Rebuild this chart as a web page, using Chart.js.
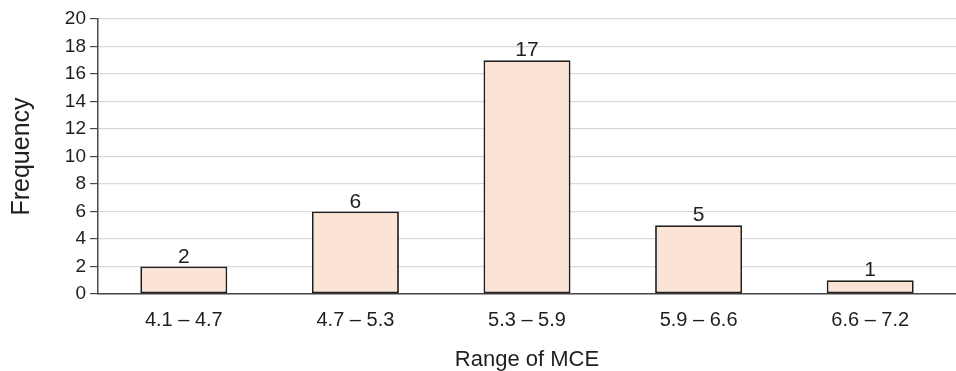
<!DOCTYPE html>
<html>
<head>
<meta charset="utf-8">
<script src="https://cdn.jsdelivr.net/npm/chart.js@4.4.1/dist/chart.umd.min.js"></script>
<style>
  html, body { margin: 0; padding: 0; background: #ffffff; }
  #wrap { width: 956px; height: 371px; position: relative; }
</style>
</head>
<body>
<div id="wrap"><canvas id="c"></canvas></div>
<script>
const categories = ['4.1 \u2013 4.7', '4.7 \u2013 5.3', '5.3 \u2013 5.9', '5.9 \u2013 6.6', '6.6 \u2013 7.2'];
const frequency = [2, 6, 17, 5, 1];
const yTicks = [0, 2, 4, 6, 8, 10, 12, 14, 16, 18, 20];

const FONT = '"Liberation Sans", Arial, sans-serif';
const TEXT = '#1f1f1f';
const AXIS = '#4a4a4a';

// Value labels drawn above each bar
const barValueLabels = {
  id: 'barValueLabels',
  afterDatasetsDraw(chart) {
    const ctx = chart.ctx;
    const meta = chart.getDatasetMeta(0);
    ctx.save();
    ctx.font = '21px ' + FONT;
    ctx.fillStyle = TEXT;
    ctx.textAlign = 'center';
    ctx.textBaseline = 'alphabetic';
    meta.data.forEach((bar, i) => {
      ctx.fillText(String(frequency[i]), bar.x, bar.y - 4);
    });
    ctx.restore();
  }
};

new Chart(document.getElementById('c'), {
  type: 'bar',
  data: {
    labels: categories,
    datasets: [{
      data: frequency,
      backgroundColor: '#fbe3d6',
      borderColor: '#1f1f1f',
      borderWidth: 1.8,
      borderSkipped: false,
      categoryPercentage: 1,
      barPercentage: 0.507
    }]
  },
  options: {
    responsive: true,
    maintainAspectRatio: false,
    animation: false,
    layout: { padding: { top: 19, right: 0, left: 0, bottom: 0 } },
    plugins: {
      legend: { display: false },
      tooltip: { enabled: false }
    },
    scales: {
      x: {
        afterFit(axis) { axis.height = 77; },
        grid: { display: false, drawTicks: false },
        border: { display: true, color: AXIS, width: 1.5 },
        ticks: { color: TEXT, font: { family: FONT, size: 20, lineHeight: 1.2 }, padding: 14, maxRotation: 0 },
        title: { display: true, text: 'Range of MCE', color: TEXT, font: { family: FONT, size: 22, lineHeight: 1 }, padding: { top: 0, bottom: 0 } }
      },
      y: {
        min: 0,
        max: 20,
        afterBuildTicks(axis) { axis.ticks = yTicks.map(v => ({ value: v })); },
        afterFit(axis) { axis.width = 98; },
        grid: { color: '#d9d9d9', lineWidth: 1.2, tickColor: AXIS, tickLength: 8, drawTicks: true },
        border: { display: true, color: AXIS, width: 1.5 },
        ticks: { color: TEXT, font: { family: FONT, size: 19 }, padding: 4 },
        title: { display: true, text: 'Frequency', color: TEXT, font: { family: FONT, size: 25, lineHeight: 1 }, padding: { top: 10, bottom: 0 } }
      }
    }
  },
  plugins: [barValueLabels]
});
</script>
</body>
</html>
